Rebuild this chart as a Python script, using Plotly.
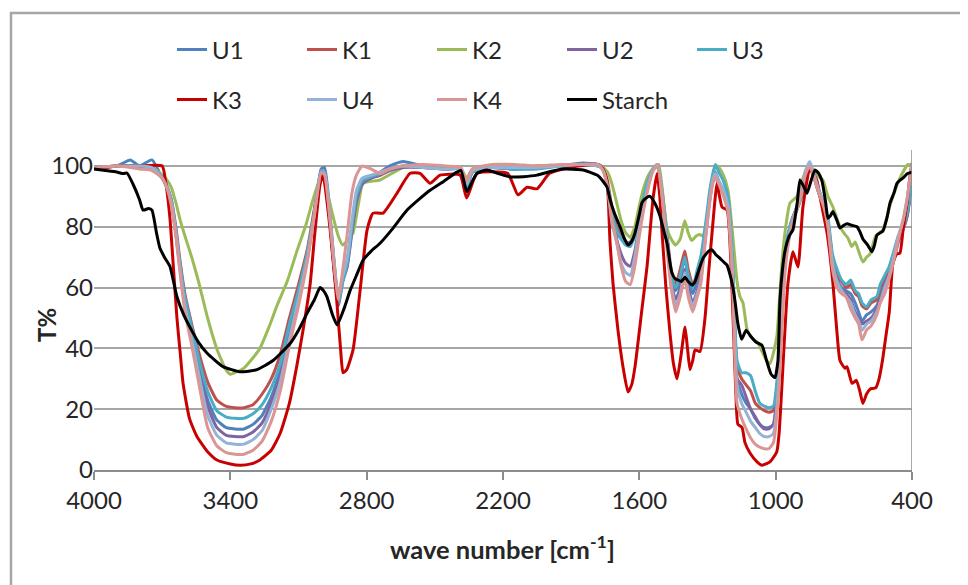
import plotly.graph_objects as go

# ---- data ----
WN_S = [4000, 3900, 3840, 3800, 3745, 3700, 3680, 3660, 3640, 3620,
        3600, 3570, 3540, 3500, 3460, 3420, 3380, 3340, 3300, 3260,
        3220, 3180, 3140, 3100, 3060, 3030, 3000, 2985, 2960, 2945,
        2925, 2905, 2885, 2865, 2845, 2820, 2780, 2740, 2700, 2640,
        2550, 2450, 2385, 2360, 2335, 2250, 2150, 2050, 1950, 1850,
        1780, 1760, 1740, 1720, 1700, 1680, 1660, 1640, 1620, 1600,
        1580, 1560, 1540, 1520, 1500, 1480, 1460, 1440, 1420, 1400,
        1385, 1365, 1345, 1330, 1310, 1290, 1275, 1265, 1250, 1230,
        1210, 1190, 1170, 1150, 1130, 1110, 1090, 1070, 1050, 1030,
        1010, 990, 975, 960, 945, 925, 905, 890, 870, 850,
        830, 810, 790, 770, 750, 730, 710, 690, 670, 650,
        635, 620, 600, 580, 555, 540, 520, 500, 480, 460,
        440, 420, 400]

U1 = [99.5, 100, 102, 100, 102, 96, 93, 88, 78, 66,
      55, 45, 35, 23, 16.5, 14, 13.5, 13.5, 15, 18,
      24, 33, 46, 58, 71, 85, 99, 99.5, 83, 70,
      57, 63, 68, 79, 89, 95, 96.5, 98, 100, 101.5,
      100, 99.5, 99, 94, 98.5, 99.5, 99, 99.5, 100, 101,
      100.5, 99, 93, 80, 78, 76, 75, 75, 78, 85,
      91, 96, 99, 100.5, 91, 78, 64, 59, 63, 70,
      63, 58, 62, 65, 78, 90, 96, 98, 95, 92,
      87, 66, 30, 25, 22, 20, 17, 15, 14, 14,
      15, 28, 48, 68, 76, 83, 87, 92, 98, 101,
      97, 92, 88, 82, 69, 63, 60, 59, 58, 55,
      52, 49, 51, 52, 54, 57, 62, 65, 70, 76,
      80, 86, 97]

K1 = [99.5, 100, 100, 100, 99.5, 96.5, 93.5, 89, 80, 68,
      58, 48, 39, 29, 23, 21, 20.5, 20.5, 21.5, 25,
      30, 38, 50, 61, 73, 86, 98, 97.5, 80, 67,
      55, 64, 69, 80, 88, 94, 96, 97, 98.5, 100,
      99.5, 99, 99, 93, 98, 99.5, 99.5, 100, 100, 100.5,
      100.5, 99.5, 95, 86, 80, 77, 75, 74.5, 78, 85,
      91, 96, 99, 100, 92, 79, 66, 61, 66, 72,
      66, 61, 63, 66, 78, 90, 96, 97, 94, 91,
      86, 68, 34, 30, 28, 26, 22, 20.5, 19.5, 19,
      19.5, 31, 50, 69, 77, 83, 86, 89, 96, 99,
      96, 91, 87, 81, 70, 64, 62, 60, 61, 58,
      57, 54, 53, 55, 56, 60, 63, 66, 71, 76,
      79, 84, 96]

U2 = [99.5, 100, 100, 100, 99.5, 96, 93, 88, 78, 66,
      55, 44, 34, 21, 14, 11.5, 11, 11, 12.5, 15.5,
      22, 31, 45, 57, 70, 84, 98, 97, 81, 68,
      54, 62, 67, 78, 88, 94, 96, 97, 98.5, 99.5,
      99.5, 99, 99, 93, 98, 99.5, 99, 99.5, 100, 100.5,
      100, 99, 94, 83, 76, 71, 68, 67, 72, 81,
      88, 94, 98.5, 100, 90, 76, 62, 56, 60, 66,
      60, 55, 59, 63, 76, 89, 95, 97, 93, 91,
      86, 66, 30, 28, 24, 20, 17.5, 15, 13.5, 13.5,
      15, 27, 47, 67, 76, 82, 86, 90, 97, 100,
      96, 91, 87, 80, 68, 62, 59, 58, 56, 52,
      50, 48, 49, 50, 53, 56, 61, 64, 69, 75,
      79, 84, 95]

U3 = [99.5, 100, 100, 100, 99.5, 96.5, 93.5, 89, 79, 67,
      57, 47, 37, 26, 19.5, 17.5, 17, 17, 18.5, 21.5,
      27, 35, 48, 59, 72, 85, 98.5, 98, 82, 69,
      55, 62, 68, 80, 90, 95, 96.5, 97.5, 99, 100,
      99.5, 99, 99, 93, 98, 99.5, 99, 99, 100, 100.5,
      100, 99, 94, 84, 79, 76, 74, 73.5, 77, 84,
      90, 95.5, 99, 100.5, 91, 78, 64, 60, 64, 70,
      64, 60, 66, 70, 80, 92, 98, 100.5, 98, 95,
      90, 70, 36, 32, 32, 31, 26, 22, 21, 20.5,
      21, 33, 52, 70, 78, 83, 86, 89, 96, 100,
      97, 92, 88, 83, 71, 66, 62.5, 61, 62.5, 59,
      58, 55, 53.6, 56, 57, 61, 64, 67, 72, 77,
      80, 85, 96]

U4 = [99.5, 100, 100, 100, 99.5, 96, 93, 88, 78, 65,
      54, 43, 32, 18, 11.5, 9, 8.5, 8.5, 10, 13,
      20, 29, 43, 56, 70, 84, 98, 97.5, 82, 69,
      57, 64, 70, 82, 92, 96, 97, 98, 99, 100,
      99.5, 99, 99, 94, 98.5, 99.5, 99.5, 99.5, 100, 100.5,
      100, 98.5, 93, 81, 75, 68, 65, 64, 70, 80,
      87, 94, 98.5, 100.5, 90, 75, 61, 54, 58, 65,
      58, 54, 58, 62, 76, 89, 96, 97.5, 95, 92,
      87, 65, 28, 22, 19, 16, 14, 12, 11, 11,
      12, 25, 45, 66, 75, 82, 87, 91, 98, 101.5,
      97, 92, 88, 81, 68, 62, 59, 57, 55, 51,
      49, 46, 48, 49, 52, 55, 60, 64, 70, 77,
      82, 90, 101]

K4 = [99.5, 100, 99.5, 99, 98.5, 96, 93, 87, 77, 64,
      52, 41, 29, 14, 8, 5.8, 5.2, 5.2, 6.5, 9.5,
      16, 26, 41, 54, 69, 84, 98, 97, 81, 69,
      56, 66, 78, 91, 97, 100, 99, 97.5, 99, 100,
      100.5, 100, 99.5, 95, 99, 100.5, 100.5, 100, 100.5, 100.5,
      100.5, 98.5, 93, 82, 75, 67, 62, 61, 67, 77,
      86, 93, 98.5, 100.5, 90, 74, 60, 52, 57, 63,
      57, 52, 57, 61, 75, 88, 95, 96.5, 94, 90,
      85, 62, 22, 17, 13.5, 10.5, 8.5, 7.5, 7, 7,
      9, 22, 42, 64, 74, 82, 86, 90, 97, 100,
      96, 91, 87, 80, 66, 60, 58, 57, 53, 50,
      48, 42.8, 46, 47.4, 51, 55, 58, 63, 69, 76,
      82, 90, 100]

K2_WN = [4000, 3900, 3800, 3740, 3700, 3680, 3660, 3640, 3620, 3600,
         3570, 3540, 3500, 3460, 3420, 3400, 3380, 3340, 3310, 3270,
         3230, 3195, 3150, 3107, 3070, 3036, 3010, 2997, 2975, 2950,
         2925, 2905, 2880, 2860, 2835, 2816, 2741, 2640, 2550, 2450,
         2385, 2360, 2335, 2250, 2150, 2050, 1950, 1850, 1780, 1760,
         1740, 1720, 1700, 1680, 1660, 1640, 1620, 1600, 1580, 1560,
         1530, 1515, 1500, 1480, 1460, 1440, 1420, 1400, 1385, 1370,
         1350, 1335, 1320, 1300, 1285, 1270, 1255, 1230, 1210, 1190,
         1170, 1157, 1144, 1125, 1100, 1080, 1060, 1040, 1025, 1005,
         994, 980, 968, 950, 937, 906, 880, 849, 820, 792,
         770, 748, 717, 700, 682, 665, 650, 635, 616, 600,
         585, 560, 528, 497, 453, 418, 400]
K2 = [99.5, 100, 100, 99.5, 97, 95.5, 93, 88, 82, 77,
      70, 62, 50, 40, 33, 31.5, 32, 33.5, 36, 40,
      47, 54, 62, 72, 80, 89, 95, 97.5, 92, 84,
      77, 74, 76, 78, 88, 94.3, 95.4, 99.5, 100, 99.5,
      99, 96, 99, 100, 99.5, 100, 100, 100.5, 100, 99.5,
      98, 94, 88, 82, 78, 76.5, 80, 87, 93, 97,
      100, 100.5, 93, 80, 76, 74, 76, 82, 78, 75.5,
      77, 77.5, 77, 84, 92, 99, 100, 97, 92, 78,
      62, 57, 55, 46, 43, 42, 39, 36, 35, 40,
      44.5, 60, 72, 83, 87.8, 90, 96, 100, 97, 95.4,
      90, 86.5, 80, 78, 76.3, 73.5, 75, 72, 68.4, 70,
      71, 77, 79, 87, 96, 100.5, 100]

K3_WN = [4000, 3950, 3900, 3800, 3700, 3685, 3666, 3650, 3635, 3620,
         3608, 3580, 3547, 3500, 3459, 3400, 3357, 3310, 3270, 3220,
         3181, 3140, 3108, 3080, 3049, 3028, 3005, 2992, 2962, 2932,
         2915, 2904, 2888, 2860, 2829, 2798, 2772, 2728, 2667, 2609,
         2565, 2521, 2477, 2389, 2360, 2314, 2180, 2134, 2094, 2050,
         1995, 1900, 1786, 1760, 1742, 1729, 1716, 1694, 1672, 1650,
         1634, 1619, 1590, 1566, 1540, 1522, 1510, 1500, 1483, 1465,
         1450, 1434, 1416, 1399, 1388, 1377, 1365, 1355, 1333, 1311,
         1295, 1280, 1258, 1247, 1236, 1214, 1198, 1185, 1175, 1166,
         1148, 1135, 1113, 1082, 1060, 1025, 995, 985, 972, 960,
         946, 924, 902, 880, 849, 820, 800, 774, 760, 748,
         730, 717, 695, 686, 664, 645, 630, 616, 600, 585,
         560, 545, 530, 515, 500, 484, 468, 453, 438, 422,
         410, 400]
K3 = [99, 99.5, 100, 100, 100, 95, 83, 66, 50, 38,
      28.5, 17, 11, 6, 3.3, 2, 1.6, 2, 3.3, 6.5,
      12, 22, 34, 46, 61, 78, 94, 97, 80, 56,
      40, 32, 33, 39.5, 59, 79, 84.5, 84.5, 91, 97.6,
      97.6, 94.3, 97, 97, 89.5, 97.6, 97.6, 90.5, 93, 92.5,
      97.6, 99.6, 100.5, 99, 95, 75, 61.5, 46, 34, 25.7,
      28, 34, 52, 67, 89, 97.5, 90, 78, 60, 45,
      35, 30, 38, 47, 40, 33, 36, 39.5, 39, 50,
      65, 78, 94.4, 90, 86.5, 85.5, 70, 45, 25, 15,
      14, 9, 5.6, 2.7, 1.6, 2.7, 6, 12, 28.5, 45,
      61.4, 71.8, 66.8, 86.5, 99, 95.5, 88, 78, 70, 61.4,
      45, 36, 33.5, 34, 28.5, 29.5, 26, 21.9, 25, 26.6,
      27, 30, 36, 44, 52, 68, 71, 71.4, 80, 87.8,
      96, 101]

ST_WN = [4000, 3950, 3900, 3870, 3855, 3828, 3800, 3784, 3760, 3745,
         3725, 3710, 3690, 3666, 3635, 3605, 3578, 3540, 3503, 3432,
         3357, 3283, 3212, 3137, 3100, 3062, 3030, 3005, 2990, 2975,
         2950, 2930, 2900, 2873, 2845, 2816, 2780, 2741, 2690, 2622,
         2570, 2521, 2460, 2403, 2385, 2359, 2335, 2314, 2270, 2220,
         2169, 2110, 2050, 2000, 1936, 1848, 1786, 1760, 1742, 1729,
         1710, 1685, 1665, 1650, 1635, 1619, 1600, 1588, 1570, 1553,
         1530, 1509, 1490, 1478, 1465, 1456, 1443, 1430, 1415, 1399,
         1385, 1368, 1355, 1346, 1320, 1295, 1280, 1265, 1245, 1230,
         1214, 1200, 1188, 1178, 1166, 1150, 1130, 1110, 1085, 1060,
         1040, 1020, 1003, 990, 981, 970, 959, 940, 924, 905,
         893, 875, 862, 845, 827, 810, 796, 780, 770, 760,
         748, 730, 717, 700, 686, 665, 642, 630, 616, 595,
         576, 565, 554, 540, 528, 510, 497, 480, 466, 450,
         440, 420, 400]
STARCH = [99, 98.5, 98, 97.5, 97.7, 94, 89, 85.5, 86, 85.5,
          78, 73, 70, 67, 57, 51, 47, 42, 38.5, 34,
          32.3, 33, 36, 41.6, 46, 51.6, 56, 60, 59, 57,
          51, 47.7, 53, 59, 64, 69, 72, 74.6, 79, 85.5,
          89, 92, 95, 98, 98.5, 91.5, 95, 97.6, 98.7, 97.5,
          96.4, 96.5, 97, 98, 99, 98.7, 97, 95, 93, 89,
          84.5, 80, 76, 74, 75, 78, 84, 88, 89.5, 90,
          87.5, 83.5, 78, 74.6, 68, 64.7, 63, 62.5, 62, 63.4,
          62, 60.8, 62, 64, 69.6, 72, 72.4, 71, 69.6, 68.5,
          67.4, 64, 60, 55, 48, 43, 46, 44, 42, 41,
          36, 31.5, 30.4, 36, 56, 66, 72, 77, 79, 88,
          95.4, 93, 91, 95, 98.7, 97.5, 95, 88, 82.8, 83.5,
          85, 82, 79.6, 80.5, 81, 80.5, 80, 78.5, 76, 74,
          71.8, 74, 77.3, 78, 78.6, 83, 87.8, 91, 94.3, 95.5,
          96, 97.5, 98]

X_TICKS = [4000, 3400, 2800, 2200, 1600, 1000, 400]
Y_TICKS = [0, 20, 40, 60, 80, 100]

FONT = "Lato, 'Open Sans', sans-serif"
TXT = "#262626"

series = [
    ("U1", WN_S, U1, "#4F81BD", "legend"),
    ("K1", WN_S, K1, "#C0504D", "legend"),
    ("K2", K2_WN, K2, "#9BBB59", "legend"),
    ("U2", WN_S, U2, "#8064A2", "legend"),
    ("U3", WN_S, U3, "#4BACC6", "legend"),
    ("K3", K3_WN, K3, "#C80000", "legend2"),
    ("U4", WN_S, U4, "#95B3D7", "legend2"),
    ("K4", WN_S, K4, "#D99694", "legend2"),
    ("Starch", ST_WN, STARCH, "#000000", "legend2"),
]

fig = go.Figure()
for name, xs, ys, col, lg in series:
    fig.add_trace(go.Scatter(
        x=xs, y=ys, name=name, mode="lines", legend=lg,
        line=dict(color=col, width=3, shape="spline", smoothing=0.5),
    ))

# page offset of the body (8 px) is compensated in the margins
OFF = 8
W, H = 968, 585
PL, PR, PT, PB = 94, 912, 150, 470          # plot box in page pixels
PW, PH = PR - PL, PB - PT
L, T = PL - OFF, PT - OFF
R, B = W - L - PW, H - T - PH


def px(xp):
    return (xp - PL) / PW


def py(yp):
    return (PB - yp) / PH


leg_common = dict(
    orientation="h", xanchor="left", yanchor="middle",
    font=dict(family=FONT, size=24, color=TXT),
    bgcolor="rgba(0,0,0,0)", entrywidth=85, itemwidth=30,
    traceorder="normal",
)

fig.update_layout(
    width=W, height=H,
    margin=dict(l=L, r=R, t=T, b=B, autoexpand=False),
    paper_bgcolor="white", plot_bgcolor="white",
    showlegend=True,
    font=dict(family=FONT, size=24, color=TXT),
    legend=dict(x=px(172), y=py(50), **leg_common),
    legend2=dict(x=px(172), y=py(100), **leg_common),
    xaxis=dict(
        range=[4000, 400], tickvals=X_TICKS, ticktext=[str(v) for v in X_TICKS],
        showgrid=False, zeroline=False, showline=True,
        linecolor="#8C8C8C", linewidth=1.5,
        ticks="outside", ticklen=8, tickcolor="#8C8C8C", tickwidth=1.5,
        tickfont=dict(family=FONT, size=24, color=TXT),
    ),
    yaxis=dict(
        range=[0, 105.26], tickvals=Y_TICKS,
        showgrid=True, gridcolor="#A6A6A6", gridwidth=1.5,
        zeroline=False, showline=False, ticks="",
        tickfont=dict(family=FONT, size=24, color=TXT),
    ),
    shapes=[
        dict(type="line", xref="x", yref="paper", x0=400, x1=400, y0=0, y1=1,
             line=dict(color="#8C8C8C", width=1.5)),
        dict(type="rect", xref="paper", yref="paper",
             x0=px(11), x1=px(1000), y0=py(620), y1=py(13),
             line=dict(color="#A6A6A6", width=2.5), fillcolor="rgba(0,0,0,0)",
             layer="below"),
    ],
    annotations=[
        dict(text="wave number [cm<sup>-1</sup>]", xref="paper", yref="paper",
             x=px(502), y=py(547), showarrow=False, xanchor="center", yanchor="middle",
             font=dict(family=FONT, size=25.5, color=TXT, weight="bold")),
        dict(text="T%", xref="paper", yref="paper", x=px(46), y=py(325),
             showarrow=False, textangle=-90, xanchor="center", yanchor="middle",
             font=dict(family=FONT, size=24, color=TXT, weight="bold")),
    ],
)

fig.write_html("out.html")
